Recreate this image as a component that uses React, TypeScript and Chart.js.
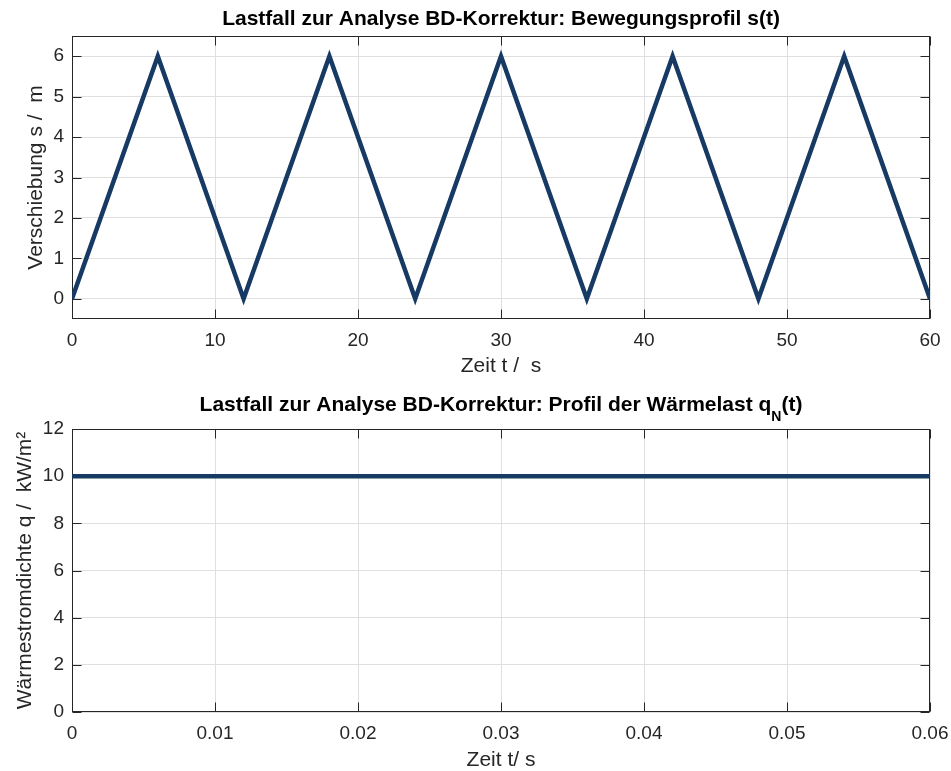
import React, { useEffect, useRef } from "react";
import { Chart, registerables } from "chart.js";

Chart.register(...registerables);

// Bewegungsprofil s(t): Dreieck zwischen 0 m und 6 m, Periode 12 s
const motionTime = [0, 6, 12, 18, 24, 30, 36, 42, 48, 54, 60];
const motionDisplacement = [0, 6, 0, 6, 0, 6, 0, 6, 0, 6, 0];
const motionXTicks = [0, 10, 20, 30, 40, 50, 60];
const motionYTicks = [0, 1, 2, 3, 4, 5, 6];

// Wärmelast q_N(t): konstant 10 kW/m²
const heatTime = [0, 0.06];
const heatFlux = [10, 10];
const heatXTicks = [0, 0.01, 0.02, 0.03, 0.04, 0.05, 0.06];
const heatYTicks = [0, 2, 4, 6, 8, 10, 12];

const FONT = "'Liberation Sans', Arial, Helvetica, sans-serif";
const AXIS_COLOR = "#262626";
const GRID_COLOR = "#dfdfdf";
const LINE_COLOR = "#163a64";

type TitlePart = { text: string; sub?: boolean };

// Box around the plot area with inward tick marks on all four sides
const axesFrame = {
  id: "axesFrame",
  beforeDatasetsDraw(chart: any) {
    const { ctx, chartArea: a, scales } = chart;
    const tl = 9;
    const left = Math.round(a.left) + 0.5;
    const right = Math.round(a.right) - 0.5;
    const top = Math.round(a.top) + 0.5;
    const bottom = Math.round(a.bottom) - 0.5;
    ctx.save();
    ctx.strokeStyle = AXIS_COLOR;
    ctx.lineWidth = 1;
    ctx.beginPath();
    for (const t of scales.x.ticks) {
      const px = Math.round(scales.x.getPixelForValue(t.value)) + 0.5;
      ctx.moveTo(px, bottom);
      ctx.lineTo(px, bottom - tl);
      ctx.moveTo(px, top);
      ctx.lineTo(px, top + tl);
    }
    for (const t of scales.y.ticks) {
      const py = Math.round(scales.y.getPixelForValue(t.value)) + 0.5;
      ctx.moveTo(left, py);
      ctx.lineTo(left + tl, py);
      ctx.moveTo(right, py);
      ctx.lineTo(right - tl, py);
    }
    ctx.stroke();
    ctx.strokeRect(left, top, right - left, bottom - top);
    ctx.restore();
  },
};

// Bold heading above the plot area, supports a subscript part
const heading = {
  id: "heading",
  afterDraw(chart: any, _args: any, opts: any) {
    const parts: TitlePart[] = opts.parts || [];
    const { ctx, chartArea: a } = chart;
    const mainFont = `bold 21px ${FONT}`;
    const subFont = `bold 14px ${FONT}`;
    ctx.save();
    ctx.fillStyle = "#000";
    ctx.textBaseline = "alphabetic";
    ctx.textAlign = "left";
    let total = 0;
    const widths = parts.map((p) => {
      ctx.font = p.sub ? subFont : mainFont;
      const w = ctx.measureText(p.text).width;
      total += w;
      return w;
    });
    let x = (a.left + a.right) / 2 - total / 2;
    const baseY = a.top - opts.gap;
    parts.forEach((p, i) => {
      ctx.font = p.sub ? subFont : mainFont;
      ctx.fillText(p.text, x, p.sub ? baseY + 10 : baseY);
      x += widths[i];
    });
    ctx.restore();
  },
};

type PanelProps = {
  xs: number[];
  ys: number[];
  xTicks: number[];
  yTicks: number[];
  xMin: number;
  xMax: number;
  yMin: number;
  yMax: number;
  xTitle: string;
  yTitle: string;
  titleParts: TitlePart[];
  titleGap: number;
  width: number;
  height: number;
  padTop: number;
  xAxisHeight: number;
  xTitlePad: number;
  yTitlePad: number;
};

function Panel(props: PanelProps) {
  const ref = useRef<HTMLCanvasElement | null>(null);

  useEffect(() => {
    if (!ref.current) return;
    const tickFont = { family: FONT, size: 19 };
    const titleFont = { family: FONT, size: 21 };
    const chart = new Chart(ref.current, {
      type: "line",
      data: {
        datasets: [
          {
            data: props.xs.map((x, i) => ({ x, y: props.ys[i] })),
            borderColor: LINE_COLOR,
            borderWidth: 4.5,
            borderJoinStyle: "miter",
            borderCapStyle: "butt",
            pointRadius: 0,
            tension: 0,
            fill: false,
          },
        ],
      },
      options: {
        animation: false,
        responsive: false,
        devicePixelRatio: 1,
        layout: { padding: { left: 0, right: 21, top: props.padTop, bottom: 0 } },
        plugins: {
          legend: { display: false },
          tooltip: { enabled: false },
          title: { display: false },
          heading: { parts: props.titleParts, gap: props.titleGap },
        } as any,
        scales: {
          x: {
            type: "linear",
            min: props.xMin,
            max: props.xMax,
            afterBuildTicks: (s: any) => {
              s.ticks = props.xTicks.map((v) => ({ value: v }));
            },
            afterFit: (s: any) => {
              s.height = props.xAxisHeight;
              s.paddingLeft = 0;
              s.paddingRight = 0;
            },
            ticks: {
              autoSkip: false,
              maxRotation: 0,
              padding: 10,
              color: AXIS_COLOR,
              font: tickFont,
              callback: (v: any) => String(v),
            },
            grid: { color: GRID_COLOR, lineWidth: 1, drawTicks: false },
            border: { display: false },
            title: {
              display: true,
              text: props.xTitle,
              color: AXIS_COLOR,
              font: titleFont,
              padding: { top: 0, bottom: props.xTitlePad },
            },
          },
          y: {
            type: "linear",
            min: props.yMin,
            max: props.yMax,
            afterBuildTicks: (s: any) => {
              s.ticks = props.yTicks.map((v) => ({ value: v }));
            },
            afterFit: (s: any) => {
              s.width = 72;
              s.paddingTop = 0;
              s.paddingBottom = 0;
            },
            ticks: {
              autoSkip: false,
              padding: 8,
              color: AXIS_COLOR,
              font: tickFont,
              callback: (v: any) => String(v),
            },
            grid: { color: GRID_COLOR, lineWidth: 1, drawTicks: false },
            border: { display: false },
            title: {
              display: true,
              text: props.yTitle,
              color: AXIS_COLOR,
              font: titleFont,
              padding: { top: props.yTitlePad, bottom: 0 },
            },
          },
        },
      } as any,
      plugins: [axesFrame, heading],
    });
    return () => chart.destroy();
  }, []);

  return <canvas ref={ref} width={props.width} height={props.height} style={{ display: "block" }} />;
}

export default function App() {
  return (
    <div
      style={{
        position: "fixed",
        left: 0,
        top: 0,
        width: 951,
        height: 771,
        overflow: "hidden",
        background: "#fff",
      }}
    >
      <div style={{ position: "absolute", left: 0, top: 0 }}>
        <Panel
          xs={motionTime}
          ys={motionDisplacement}
          xTicks={motionXTicks}
          yTicks={motionYTicks}
          xMin={0}
          xMax={60}
          yMin={-0.5}
          yMax={6.5}
          xTitle="Zeit t /  s"
          yTitle="Verschiebung s /  m"
          titleParts={[{ text: "Lastfall zur Analyse BD-Korrektur: Bewegungsprofil s(t)" }]}
          titleGap={11}
          width={951}
          height={385}
          padTop={36}
          xAxisHeight={66}
          xTitlePad={6}
          yTitlePad={24}
        />
      </div>
      <div style={{ position: "absolute", left: 0, top: 385 }}>
        <Panel
          xs={heatTime}
          ys={heatFlux}
          xTicks={heatXTicks}
          yTicks={heatYTicks}
          xMin={0}
          xMax={0.06}
          yMin={0}
          yMax={12}
          xTitle="Zeit t/ s"
          yTitle="Wärmestromdichte q /  kW/m²"
          titleParts={[
            { text: "Lastfall zur Analyse BD-Korrektur: Profil der Wärmelast q" },
            { text: "N", sub: true },
            { text: "(t)" },
          ]}
          titleGap={18}
          width={951}
          height={400}
          padTop={44}
          xAxisHeight={73}
          xTitlePad={12}
          yTitlePad={13}
        />
      </div>
    </div>
  );
}
